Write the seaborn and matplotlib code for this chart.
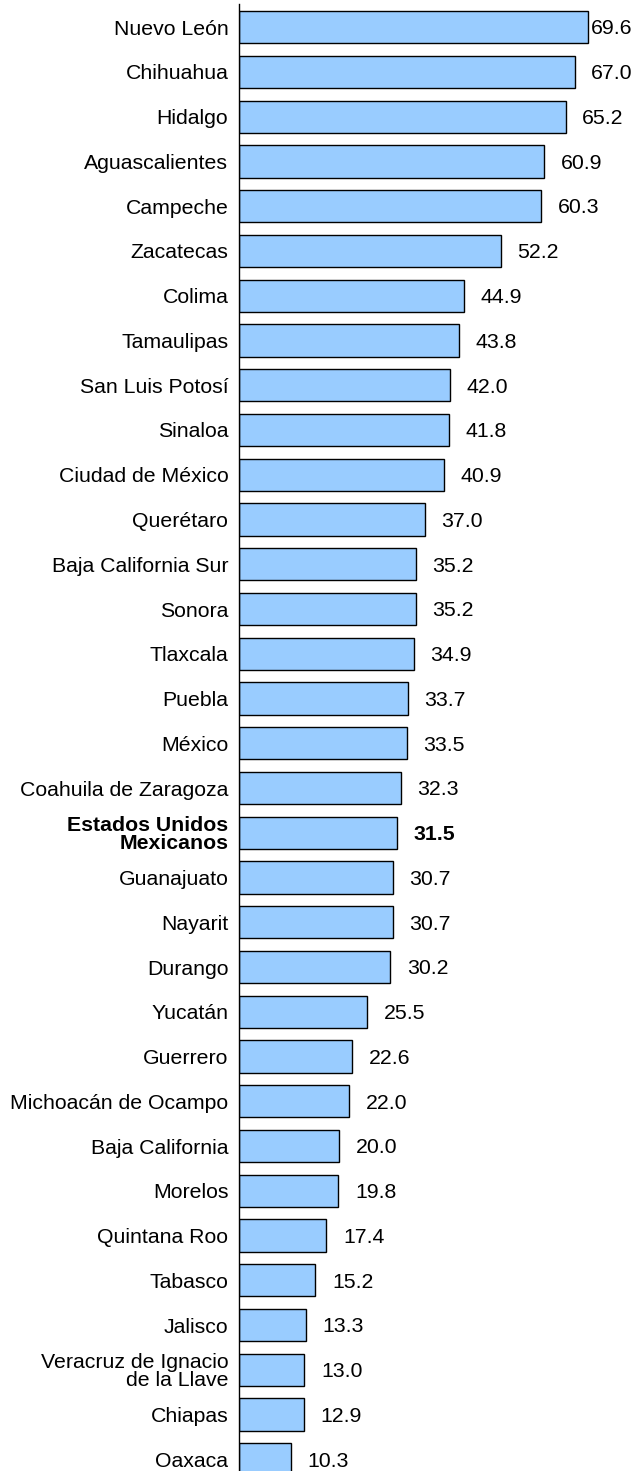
import matplotlib
matplotlib.use("Agg")
import matplotlib.pyplot as plt
import seaborn as sns
import pandas as pd

states = [
    "Nuevo León", "Chihuahua", "Hidalgo", "Aguascalientes", "Campeche",
    "Zacatecas", "Colima", "Tamaulipas", "San Luis Potosí", "Sinaloa",
    "Ciudad de México", "Querétaro", "Baja California Sur", "Sonora",
    "Tlaxcala", "Puebla", "México", "Coahuila de Zaragoza",
    "Estados Unidos\nMexicanos", "Guanajuato", "Nayarit", "Durango",
    "Yucatán", "Guerrero", "Michoacán de Ocampo", "Baja California",
    "Morelos", "Quintana Roo", "Tabasco", "Jalisco",
    "Veracruz de Ignacio\nde la Llave", "Chiapas", "Oaxaca",
]
values = [
    69.6, 67.0, 65.2, 60.9, 60.3, 52.2, 44.9, 43.8, 42.0, 41.8,
    40.9, 37.0, 35.2, 35.2, 34.9, 33.7, 33.5, 32.3, 31.5, 30.7,
    30.7, 30.2, 25.5, 22.6, 22.0, 20.0, 19.8, 17.4, 15.2, 13.3,
    13.0, 12.9, 10.3,
]
national = "Estados Unidos\nMexicanos"

df = pd.DataFrame({"estado": states, "valor": values})

sns.set_style("white")
plt.rcParams["font.family"] = ["Liberation Sans", "DejaVu Sans"]
FS = 15.3

fig = plt.figure(figsize=(6.43, 14.71), dpi=100)
ax = fig.add_axes([239.3 / 643, 0, 1 - 239.3 / 643, 1 - 4 / 1471])

sns.barplot(data=df, x="valor", y="estado", order=states, orient="h",
            color="#99CCFF", saturation=1, edgecolor="black", linewidth=1.0,
            width=0.72, ax=ax)

ax.set_xlim(0, (643 - 239.3) / 5.006)
ax.set_ylim(32.26, -0.518)
ax.set_xlabel("")
ax.set_ylabel("")
ax.set_xticks([])

for s in ["top", "right", "bottom"]:
    ax.spines[s].set_visible(False)
ax.spines["left"].set_color("black")
ax.spines["left"].set_linewidth(1.0)

ax.tick_params(axis="y", length=0, pad=7.9)
for lbl in ax.get_yticklabels():
    lbl.set_fontsize(FS)
    lbl.set_color("black")
    lbl.set_linespacing(0.95)
    lbl.set_horizontalalignment("right")
    if lbl.get_text() == national:
        lbl.set_fontweight("bold")

# value labels to the right of each bar, kept inside the plot area
label_max = (590.5 - 239.3) / 5.006
for i, (name, v) in enumerate(zip(states, values)):
    xpos = min(v + 3.3, label_max)
    ax.text(xpos, i + 0.04, f"{v:.1f}", ha="left", va="center", fontsize=FS,
            color="black", fontweight="bold" if name == national else "normal")

fig.savefig("out.png", dpi=100)
